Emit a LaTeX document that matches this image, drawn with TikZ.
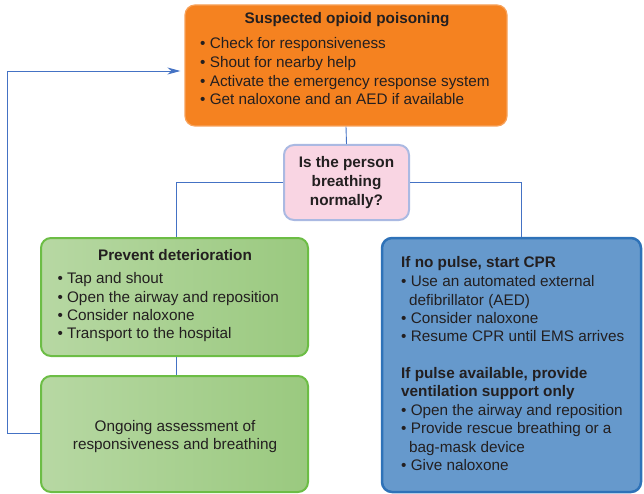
\documentclass[tikz,border=0pt]{standalone}
\usepackage{fontspec}
\setmainfont{Liberation Sans}
\usetikzlibrary{arrows.meta}
\definecolor{orfill}{HTML}{F58220}
\definecolor{ordraw}{HTML}{F8A25A}
\definecolor{pkfill}{HTML}{F9D5E3}
\definecolor{pkdraw}{HTML}{AAB9E2}
\definecolor{blfill}{HTML}{6699CC}
\definecolor{bldraw}{HTML}{2E72B8}
\definecolor{grL}{HTML}{B7D8A3}
\definecolor{grR}{HTML}{9AC97F}
\definecolor{grdraw}{HTML}{6CBD45}
\definecolor{conn}{HTML}{4472C4}
\definecolor{txtc}{HTML}{231F20}
\tikzset{
  boxbase/.style={rectangle, rounded corners=10pt, inner sep=0pt},
  orbox/.style={boxbase, fill=orfill, draw=ordraw, line width=1.2pt},
  pkbox/.style={boxbase, fill=pkfill, draw=pkdraw, line width=2pt},
  grbox/.style={boxbase, left color=grL, right color=grR, draw=grdraw, line width=2pt},
  blbox/.style={boxbase, fill=blfill, draw=bldraw, line width=2.5pt},
  ln/.style={anchor=base west, inner sep=0pt, font=\fontsize{15.3}{18.5}\selectfont, text=txtc},
  lnc/.style={ln, anchor=base},
  bd/.style={font=\fontsize{15.3}{18.5}\selectfont\bfseries},
  connector/.style={draw=conn, line width=0.9pt},
}
\begin{document}
\begin{tikzpicture}[x=1pt,y=-1pt]
\useasboundingbox (0,0) rectangle (644,494);
% boxes
\node[orbox, minimum width=322pt, minimum height=121pt] (orange) at (346,65.5) {};
\node[pkbox, minimum width=125pt, minimum height=75pt] (pink) at (346.5,182.5) {};
\node[grbox, minimum width=267pt, minimum height=118pt] (green1) at (174.5,297) {};
\node[grbox, minimum width=267pt, minimum height=116pt] (green2) at (174.5,434) {};
\node[blbox, minimum width=259pt, minimum height=254pt] (blue) at (511.5,365) {};
% coordinates for connectors
\coordinate (pl) at (176,182.5);
\coordinate (pr) at (521,182.5);
\coordinate (fb1) at (7,433);
\coordinate (fb2) at (7,71);
% connectors
\draw[connector] (orange.south) -- (pink.north);
\draw[connector] (pink.west) -- (pl) -- (pl |- green1.north);
\draw[connector] (pink.east) -- (pr) -- (pr |- blue.north);
\draw[connector] (green1.south -| pl) -- (green2.north -| pl);
\draw[connector, -{Stealth[length=13pt,width=7pt,inset=4pt]}] (fb1 -| green2.west) -- (fb1) -- (fb2) -- ([xshift=-4pt]fb2 -| orange.west);
% orange text
\node[lnc, bd] (ot) at (347,24) {Suspected opioid poisoning};
\node[ln] (o1) at (200,49) {• Check for responsiveness};
\node[ln] (o2) at (200,67.6) {• Shout for nearby help};
\node[ln] (o3) at (200,86.2) {• Activate the emergency response system};
\node[ln] (o4) at (200,104.8) {• Get naloxone and an AED if available};
% pink text
\node[lnc, bd] (p1) at (346.5,167.5) {Is the person};
\node[lnc, bd] (p2) at (346.5,186.5) {breathing};
\node[lnc, bd] (p3) at (346.5,205.5) {normally?};
% green1 text
\node[lnc, bd] (gt) at (175,260.5) {Prevent deterioration};
\node[ln] (g1) at (57.3,283.8) {• Tap and shout};
\node[ln] (g2) at (57.3,302.2) {• Open the airway and reposition};
\node[ln] (g3) at (57.3,320.5) {• Consider naloxone};
\node[ln] (g4) at (57.3,338.8) {• Transport to the hospital};
% green2 text
\node[lnc] (h1) at (175,431) {Ongoing assessment of};
\node[lnc] (h2) at (175,449) {responsiveness and breathing};
% blue text
\node[ln, bd] (bt1) at (401,267.8) {If no pulse, start CPR};
\node[ln] (b1) at (401,286.5) {• Use an automated external};
\node[ln] (b1b) at (409,305.2) {defibrillator (AED)};
\node[ln] (b2) at (401,323.5) {• Consider naloxone};
\node[ln] (b3) at (401,341.8) {• Resume CPR until EMS arrives};
\node[ln, bd] (bt2) at (401,378.8) {If pulse available, provide};
\node[ln, bd] (bt3) at (401,396.8) {ventilation support only};
\node[ln] (b4) at (401,415.5) {• Open the airway and reposition};
\node[ln] (b5) at (401,433.8) {• Provide rescue breathing or a};
\node[ln] (b5b) at (409,452.5) {bag-mask device};
\node[ln] (b6) at (401,470.5) {• Give naloxone};
\end{tikzpicture}
\end{document}
